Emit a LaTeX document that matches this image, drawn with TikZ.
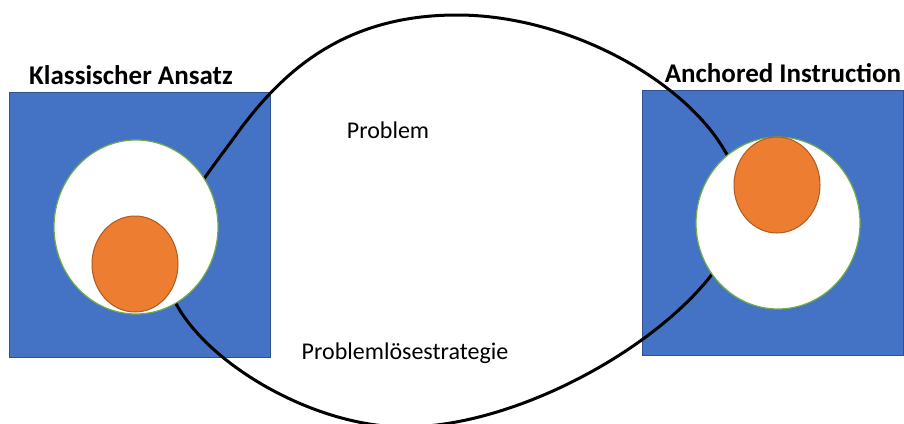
\documentclass[tikz,border=0pt]{standalone}
\usepackage{fontspec}
\setmainfont{Carlito}
\definecolor{offblue}{HTML}{4472C4}
\definecolor{offblueline}{HTML}{2F528F}
\definecolor{offorange}{HTML}{ED7D31}
\definecolor{offorangeline}{HTML}{AE5A21}
\definecolor{offgreen}{HTML}{70AD47}
\tikzset{
  bluebox/.style={fill=offblue, draw=offblueline, line width=0.8pt},
  whitedisc/.style={fill=white, draw=offgreen, line width=1.2pt},
  orangedisc/.style={fill=offorange, draw=offorangeline, line width=1pt},
  bigring/.style={draw=black, line width=3pt},
  titletext/.style={font=\bfseries\fontsize{27}{32}\selectfont, inner sep=0pt},
  bodytext/.style={font=\fontsize{24}{29}\selectfont, inner sep=0pt}
}
\begin{document}
\begin{tikzpicture}[x=1pt,y=-1pt]
\useasboundingbox (0,0) rectangle (904,423);
\clip (0,0) rectangle (904,423);
% blue squares
\draw[bluebox] (9,92) rectangle (270,357);
\draw[bluebox] (642,90) rectangle (903,355);
% big ring
\draw[bigring] (457,15) .. controls (593,15) and (741,114) .. (741,205)
  .. controls (741,298) and (546,427) .. (405,427)
  .. controls (297,427) and (165,338) .. (165,265)
  .. controls (165,225) and (213,167) .. (236,135)
  .. controls (283,70) and (345,15) .. (457,15) -- cycle;
% white discs
\draw[whitedisc] (136,227) ellipse [x radius=82, y radius=87];
\draw[whitedisc] (778,223) ellipse [x radius=82, y radius=86];
% orange discs
\draw[orangedisc] (135,264) ellipse [x radius=43, y radius=48];
\draw[orangedisc] (777,185) ellipse [x radius=43, y radius=48];
% texts
\node[titletext] (tl) at (131,75) {Klassischer Ansatz};
\node[titletext] (tr) at (783,73) {Anchored Instruction};
\node[bodytext] (p1) at (388,130) {Problem};
\node[bodytext] (p2) at (405,353) {Problemlösestrategie};
\end{tikzpicture}
\end{document}
